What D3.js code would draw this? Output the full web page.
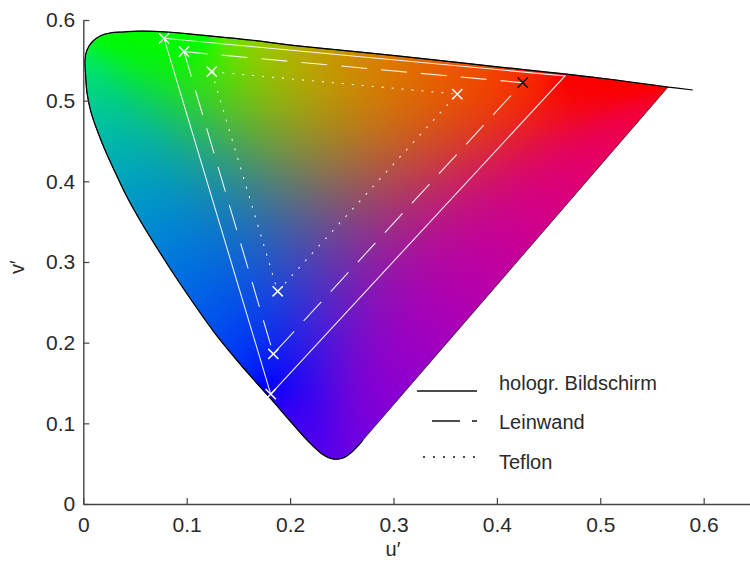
<!DOCTYPE html>
<html>
<head>
<meta charset="utf-8">
<script src="https://cdn.jsdelivr.net/npm/d3@7"></script>
<style>
  html, body { margin: 0; padding: 0; background: #fff; }
  svg { display: block; }
  text { font-family: "Liberation Sans", Arial, sans-serif; fill: #2a2a2a; }
</style>
</head>
<body>
<svg id="chart" width="750" height="566"></svg>
<script>
// Spectral locus in CIE 1976 u'v' (from the far-red end, over the green top, down to violet)
const locusU = [0.5895, 0.5655, 0.4993, 0.4026, 0.3059, 0.2096, 0.1612, 0.1129, 0.0809, 0.0548,
                0.0384, 0.0258, 0.0162, 0.0084, 0.0036, 0.0016, 0.0021, 0.0036, 0.0074, 0.0133,
                0.0210, 0.0307, 0.0423, 0.0558, 0.0713, 0.0887, 0.1071, 0.1264, 0.1467, 0.1641,
                0.1815, 0.2000, 0.2173, 0.2309, 0.2415, 0.2511, 0.2598, 0.2705];
const locusV = [0.5132, 0.5169, 0.5281, 0.5417, 0.5553, 0.5677, 0.5752, 0.5814, 0.5851, 0.5863,
                0.5851, 0.5839, 0.5801, 0.5727, 0.5628, 0.5504, 0.5343, 0.5095, 0.4859, 0.4636,
                0.4388, 0.4115, 0.3805, 0.3496, 0.3173, 0.2826, 0.2479, 0.2132, 0.1810, 0.1550,
                0.1302, 0.1029, 0.0781, 0.0620, 0.0558, 0.0570, 0.0645, 0.0793];
// The coloured gamut starts at the second locus point and is closed by the line of purples
const gamutStart = 1;

// Primaries (green, blue, red) of the three projection surfaces
const seriesNames = ["hologr. Bildschirm", "Leinwand", "Teflon"];
const holoU = [0.0781, 0.1813, 0.4659];
const holoV = [0.5773, 0.1363, 0.5306];
const leinU = [0.0974, 0.1838, 0.4250];
const leinV = [0.5607, 0.1860, 0.5223];
const teflU = [0.1242, 0.1880, 0.3617];
const teflV = [0.5359, 0.2637, 0.5082];

const xTicks = [0, 0.1, 0.2, 0.3, 0.4, 0.5, 0.6];
const xTickLabels = ["0", "0.1", "0.2", "0.3", "0.4", "0.5", "0.6"];
const yTicks = [0, 0.1, 0.2, 0.3, 0.4, 0.5, 0.6];
const yTickLabels = ["0", "0.1", "0.2", "0.3", "0.4", "0.5", "0.6"];

const svg = d3.select("#chart");
const x = d3.scaleLinear().domain([0, 0.645]).range([83.3, 750.2]);
const y = d3.scaleLinear().domain([0, 0.6]).range([504, 20]);

const defs = svg.append("defs");
const fillLayer = svg.append("g");
const lineLayer = svg.append("g");

// u'v' chromaticity -> display RGB (0..1): channels normalised to a constant sum, then gamma encoded
function chromaColor(u, v) {
  const d = 6 * u - 16 * v + 12;
  const cx = 9 * u / d, cy = 4 * v / d;
  const X = cx / cy, Y = 1, Z = (1 - cx - cy) / cy;
  let r = 3.2406 * X - 1.5372 * Y - 0.4986 * Z;
  let g = -0.9689 * X + 1.8758 * Y + 0.0415 * Z;
  let b = 0.0557 * X - 0.2040 * Y + 1.0570 * Z;
  r = Math.max(r, 0); g = Math.max(g, 0); b = Math.max(b, 0);
  const s = (r + g + b) || 1;
  const enc = c => Math.pow(c / s, 1 / 2.0);
  return [enc(r), enc(g), enc(b)];
}

// smoothed outlines
const gamutPts = locusU.slice(gamutStart).map((u, i) => [x(u), y(locusV[i + gamutStart])]);
const curvedPart = d3.line().curve(d3.curveCatmullRom.alpha(0.5));
const gamutD = curvedPart(gamutPts) + "Z";
const locusD = curvedPart(locusU.map((u, i) => [x(u), y(locusV[i])]));

defs.append("clipPath").attr("id", "gamutClip").append("path").attr("d", gamutD);
const outline = lineLayer.append("path").attr("d", gamutD).attr("fill", "none");

// boundary samples carrying the colour of their chromaticity
const node = outline.node();
const total = node.getTotalLength();
const ns = Math.ceil(total / 5);
const sx = new Float32Array(ns), sy = new Float32Array(ns),
      sr = new Float32Array(ns), sg = new Float32Array(ns), sb = new Float32Array(ns);
for (let k = 0; k < ns; k++) {
  const p = node.getPointAtLength(k * total / ns);
  const c = chromaColor(x.invert(p.x), y.invert(p.y));
  sx[k] = p.x; sy[k] = p.y; sr[k] = c[0]; sg[k] = c[1]; sb[k] = c[2];
}

// inverse-distance blend of the boundary colours over the gamut area
const x0 = Math.floor(d3.min(gamutPts, p => p[0])) - 3;
const x1 = Math.ceil(d3.max(gamutPts, p => p[0])) + 3;
const y0 = Math.floor(d3.min(gamutPts, p => p[1])) - 3;
const y1 = Math.ceil(d3.max(gamutPts, p => p[1])) + 3;
const cw = x1 - x0, ch = y1 - y0;
const canvas = document.createElement("canvas");
canvas.width = cw; canvas.height = ch;
const ctx = canvas.getContext("2d");
const img = ctx.createImageData(cw, ch);
for (let j = 0; j < ch; j++) {
  const py = y0 + j + 0.5;
  for (let i = 0; i < cw; i++) {
    const px = x0 + i + 0.5;
    let wr = 0, wg = 0, wb = 0, ws = 0;
    for (let k = 0; k < ns; k++) {
      const dx = px - sx[k], dy = py - sy[k];
      const d2 = dx * dx + dy * dy + 1;
      const w = 1 / (d2 * Math.sqrt(d2));
      wr += w * sr[k]; wg += w * sg[k]; wb += w * sb[k]; ws += w;
    }
    const o = (j * cw + i) * 4;
    img.data[o] = 250 * wr / ws;
    img.data[o + 1] = 250 * wg / ws;
    img.data[o + 2] = 250 * wb / ws;
    img.data[o + 3] = 255;
  }
}
ctx.putImageData(img, 0, 0);

fillLayer.append("image")
  .attr("x", x0).attr("y", y0).attr("width", cw).attr("height", ch)
  .attr("href", canvas.toDataURL())
  .attr("clip-path", "url(#gamutClip)");

outline.attr("stroke", "#222").attr("stroke-width", 0.8);
lineLayer.append("path").attr("d", locusD)
  .attr("fill", "none").attr("stroke", "#000").attr("stroke-width", 1.2);

// triangles
const styles = [
  { u: holoU, v: holoV, dash: null, marks: [true, true, false], markColor: ["#fff", "#fff", "#fff"] },
  { u: leinU, v: leinV, dash: "26,14", marks: [true, true, true], markColor: ["#fff", "#fff", "#111"] },
  { u: teflU, v: teflV, dash: "2,8", marks: [true, true, true], markColor: ["#fff", "#fff", "#fff"] }
];
const triLine = d3.line();
styles.forEach(s => {
  const pts = s.u.map((u, i) => [x(u), y(s.v[i])]);
  lineLayer.append("path").attr("d", triLine(pts) + "Z")
    .attr("fill", "none").attr("stroke", "#fff").attr("stroke-width", 1.1)
    .attr("stroke-dasharray", s.dash).attr("opacity", 0.9);
});
styles.forEach(s => {
  s.u.forEach((u, i) => {
    if (!s.marks[i]) return;
    lineLayer.append("path")
      .attr("d", d3.symbol(d3.symbolX, 70)())
      .attr("transform", `translate(${x(u)},${y(s.v[i])})`)
      .attr("fill", "none").attr("stroke", s.markColor[i]).attr("stroke-width", 1.5);
  });
});

// axes
const xAxis = d3.axisBottom(x).tickValues(xTicks).tickFormat((d, i) => xTickLabels[i])
  .tickSizeInner(-6).tickSizeOuter(0).tickPadding(13);
const yAxis = d3.axisLeft(y).tickValues(yTicks).tickFormat((d, i) => yTickLabels[i])
  .tickSizeInner(-6).tickSizeOuter(0).tickPadding(8);
const gx = svg.append("g").attr("transform", `translate(0,${y(0)})`).call(xAxis);
const gy = svg.append("g").attr("transform", `translate(${x(0)},0)`).call(yAxis);
[gx, gy].forEach(g => {
  g.select(".domain").attr("stroke", "#444").attr("stroke-width", 1.4);
  g.selectAll(".tick line").attr("stroke", "#444").attr("stroke-width", 1.2);
  g.selectAll(".tick text").style("font-family", "Liberation Sans, Arial, sans-serif")
    .style("font-size", "21px").attr("fill", "#2a2a2a");
});

svg.append("text").attr("x", 393).attr("y", 556).attr("text-anchor", "middle")
  .style("font-size", "20px").text("u′");
svg.append("text").attr("transform", "translate(24,267) rotate(-90)").attr("text-anchor", "middle")
  .style("font-size", "20px").text("v′");

// legend
const legendY = [391, 421, 457];
const legendTextY = [383, 422, 462];
const legendX1 = [417, 432, 423];
const legendDash = [null, "28,12", "2,8"];
seriesNames.forEach((name, i) => {
  svg.append("line").attr("x1", legendX1[i]).attr("x2", 477)
    .attr("y1", legendY[i]).attr("y2", legendY[i])
    .attr("stroke", "#111").attr("stroke-width", 1.3).attr("stroke-dasharray", legendDash[i]);
  svg.append("text").attr("x", 499).attr("y", legendTextY[i]).attr("dy", "0.35em")
    .style("font-size", "20px").text(name);
});
</script>
</body>
</html>
